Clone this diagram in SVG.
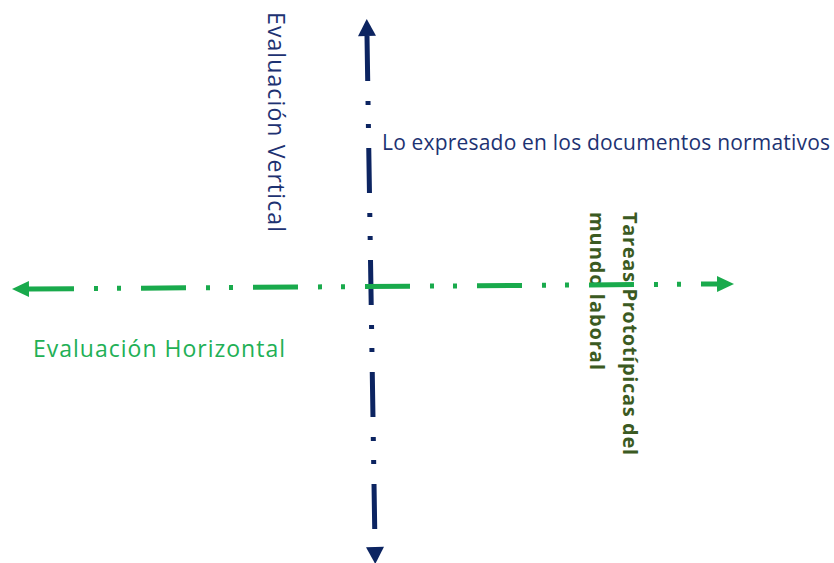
<svg xmlns="http://www.w3.org/2000/svg" width="834" height="563" viewBox="0 0 834 563">
<style>
  .lbl { font-family: "Open Sans", "Noto Sans", "DejaVu Sans", sans-serif; }
  .navy { fill: #1d3272; }
  .green { fill: #22b055; }
  .dkgreen { fill: #3b5a22; font-weight: bold; }
  .axis { fill: none; stroke-width: 5; stroke-dasharray: 45 20 4 19 4 20; }
</style>
<defs>
  <marker id="arrNavy" markerUnits="userSpaceOnUse" markerWidth="18" markerHeight="18" refX="0" refY="9" orient="auto-start-reverse" viewBox="0 0 17 18">
    <path d="M0,0 L17,9 L0,18 z" fill="#0c2461"/>
  </marker>
  <marker id="arrGreen" markerUnits="userSpaceOnUse" markerWidth="17" markerHeight="16" refX="0" refY="8" orient="auto-start-reverse" viewBox="0 0 17 16">
    <path d="M0,0 L17,8 L0,16 z" fill="#19aa4c"/>
  </marker>
</defs>
<g id="label-vertical">
  <text class="lbl navy" font-size="23" transform="translate(268,12) rotate(90)" textLength="220">Evaluación Vertical</text>
</g>
<g id="label-normativos">
  <text class="lbl navy" font-size="21" x="382" y="150" textLength="448">Lo expresado en los documentos normativos</text>
</g>
<g id="label-horizontal">
  <text class="lbl green" font-size="23" x="33" y="357" textLength="252">Evaluación Horizontal</text>
</g>
<g id="label-tareas">
  <text class="lbl dkgreen" font-size="20" transform="translate(623,212) rotate(90)" textLength="243">Tareas Prototípicas del</text>
  <text class="lbl dkgreen" font-size="20" transform="translate(590,212) rotate(90)" textLength="158">mundo laboral</text>
</g>
<g id="connectors">
  <path class="axis" d="M367,36 L375,547" stroke="#0c2461" marker-start="url(#arrNavy)" marker-end="url(#arrNavy)"/>
  <path class="axis" d="M29,289 L717,284" stroke="#19aa4c" marker-start="url(#arrGreen)" marker-end="url(#arrGreen)"/>
</g>
</svg>
